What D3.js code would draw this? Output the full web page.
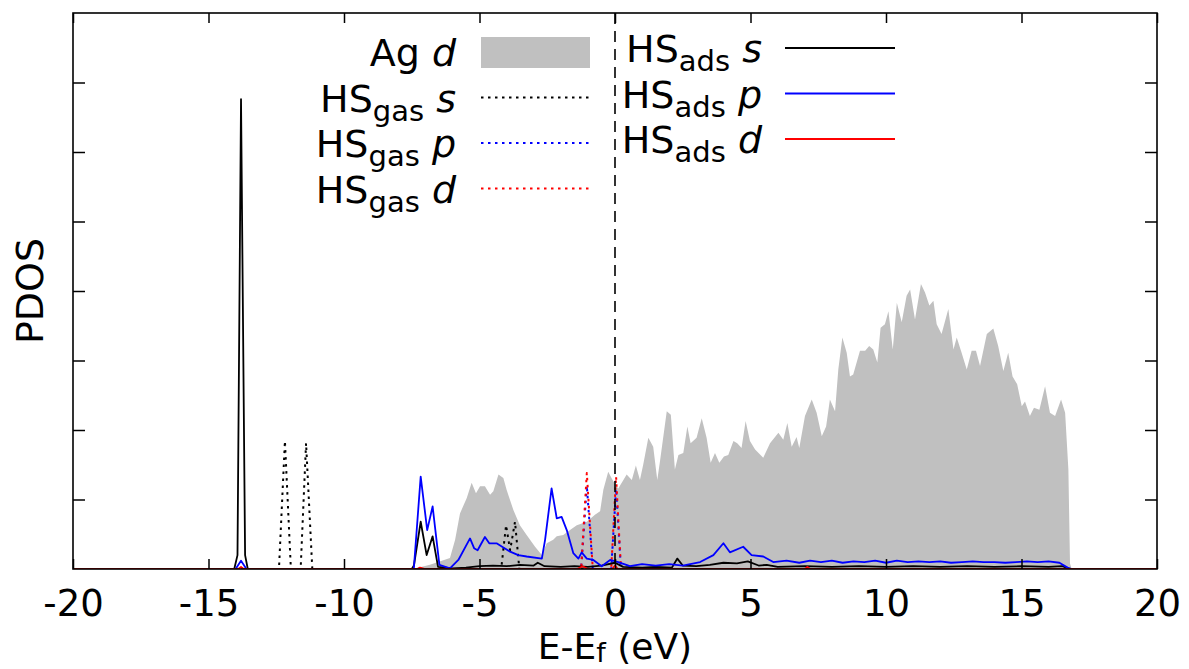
<!DOCTYPE html>
<html><head><meta charset="utf-8">
<script src="https://cdn.jsdelivr.net/npm/d3@7"></script>
<style>body{margin:0;background:#fff} text{font-family:"DejaVu Sans",sans-serif;fill:#000}</style>
</head><body><svg id="c" width="1189" height="669"></svg>
<script>
// ---------- data ----------
const xTicks = [-20,-15,-10,-5,0,5,10,15,20];
const yTicks = [1,2,3,4,5,6,7];

// Ag d (filled)
const agD = [[-7.45,0],[-6.83,0.06],[-6.09,0.16],[-5.9,0.42],[-5.72,0.8],[-5.47,1.02],[-5.29,1.24],[-5.13,1.09],[-4.98,1.19],[-4.8,1.19],[-4.61,1.07],[-4.49,1.12],[-4.3,1.36],[-4.12,1.31],[-4.0,1.14],[-3.75,0.85],[-3.51,0.63],[-3.26,0.49],[-2.95,0.32],[-2.7,0.2],[-2.52,0.37],[-2.28,0.42],[-2.15,0.47],[-1.91,0.49],[-1.66,0.56],[-1.41,0.63],[-1.04,0.68],[-0.74,0.78],[-0.55,0.83],[-0.43,1.14],[-0.25,1.4],[-0.06,1.26],[0.12,1.16],[0.31,1.28],[0.43,1.36],[0.62,1.28],[0.77,1.49],[0.92,1.28],[1.04,1.5],[1.23,1.89],[1.41,1.76],[1.56,1.28],[1.66,1.55],[1.91,2.27],[2.06,2.22],[2.21,1.43],[2.34,1.64],[2.52,1.67],[2.67,2.05],[2.79,1.81],[3.01,1.89],[3.2,2.17],[3.38,1.89],[3.53,1.53],[3.69,1.67],[3.85,1.53],[4.02,1.62],[4.18,1.64],[4.37,1.84],[4.51,1.81],[4.67,1.74],[4.82,2.13],[4.98,1.84],[5.17,1.72],[5.47,1.6],[5.72,1.81],[6.03,1.96],[6.21,1.86],[6.36,2.1],[6.52,1.76],[6.7,1.9],[6.8,1.74],[7.01,2.2],[7.26,2.44],[7.44,2.25],[7.63,1.91],[7.79,2.05],[7.93,2.44],[8.12,2.27],[8.24,2.87],[8.39,3.33],[8.55,3.11],[8.67,2.77],[8.79,2.8],[9.04,3.14],[9.23,3.14],[9.38,3.21],[9.53,3.16],[9.68,2.97],[9.8,3.47],[9.96,3.52],[10.09,3.71],[10.25,3.16],[10.4,3.83],[10.58,3.55],[10.76,3.93],[10.89,4.02],[11.07,3.59],[11.29,4.1],[11.44,3.98],[11.6,3.79],[11.75,3.86],[11.87,3.52],[12.05,3.38],[12.3,3.74],[12.49,3.16],[12.61,3.33],[12.79,3.11],[12.98,2.87],[13.16,3.14],[13.32,3.14],[13.47,2.92],[13.72,3.38],[13.96,3.46],[14.14,3.21],[14.33,2.85],[14.51,3.11],[14.67,2.77],[14.84,2.66],[15.01,2.34],[15.13,2.41],[15.31,2.2],[15.46,2.32],[15.66,2.29],[15.87,2.63],[16.05,2.25],[16.24,2.2],[16.46,2.44],[16.61,2.25],[16.73,1.43],[16.79,0.08],[16.85,0]];

// HS gas s (black dotted)
const gasS = [[-20,0],[-12.4,0],[-12.18,1.84],[-11.96,0],[-11.6,0],[-11.4,1.81],[-11.17,0],[-4.2,0],[-4.02,0.63],[-3.87,0.27],[-3.69,0.68],[-3.53,0],[20,0]];
// HS gas p (blue dotted)
const gasP = [[-20,0],[-1.25,0],[-1.04,1.2],[-0.82,0],[-0.14,0],[0.04,1.15],[0.22,0],[20,0]];
// HS gas d (red dotted)
const gasD = [[-20,0],[-1.25,0],[-1.04,1.38],[-0.82,0],[-0.14,0],[0.04,1.33],[0.22,0],[20,0]];

// HS ads s (black solid)
const adsS = [[-20,0],[-14.05,0],[-13.93,0.2],[-13.8,6.76],[-13.65,0.2],[-13.55,0],[-7.5,0],[-7.42,0.05],[-7.17,0.68],[-6.95,0.2],[-6.73,0.47],[-6.53,0.03],[-6.0,0.01],[-5.5,0.02],[-5.0,0.04],[-4.5,0.05],[-4.0,0.04],[-3.5,0.06],[-3.0,0.05],[-2.85,0.09],[-2.6,0.04],[-2.0,0.03],[-1.5,0.04],[-1.0,0.03],[-0.5,0.05],[0,0.09],[0.3,0.03],[1.0,0.02],[1.5,0.03],[2.1,0.02],[2.3,0.15],[2.5,0.05],[3.0,0.04],[3.5,0.06],[4.0,0.09],[4.5,0.08],[4.9,0.11],[5.3,0.05],[5.6,0.06],[6.0,0.03],[7.0,0.04],[8.0,0.03],[9.0,0.04],[10.0,0.03],[11.0,0.04],[12.0,0.03],[13.0,0.04],[14.0,0.03],[15.0,0.04],[16.0,0.03],[16.5,0.04],[16.8,0],[20,0]];
// HS ads p (blue solid)
const adsP = [[-20,0],[-14.0,0],[-13.8,0.12],[-13.6,0],[-7.45,0],[-7.42,0.02],[-7.17,1.33],[-6.93,0.56],[-6.73,0.9],[-6.48,0.06],[-6.09,0.01],[-5.78,0.13],[-5.35,0.44],[-5.2,0.3],[-5.07,0.27],[-4.8,0.46],[-4.64,0.37],[-4.37,0.37],[-4.12,0.31],[-3.87,0.25],[-3.57,0.2],[-3.26,0.18],[-2.7,0.15],[-2.58,0.42],[-2.34,1.16],[-2.15,0.73],[-1.97,0.75],[-1.78,0.56],[-1.54,0.23],[-1.35,0.15],[-1.23,0.24],[-1.04,0.15],[-0.8,0.13],[-0.49,0.04],[-0.18,0.13],[0.12,0.1],[0.55,0.04],[1.0,0.07],[1.5,0.05],[2.0,0.07],[2.5,0.05],[3.14,0.1],[3.63,0.2],[4.0,0.37],[4.24,0.24],[4.73,0.32],[5.04,0.2],[5.47,0.18],[5.84,0.1],[6.33,0.12],[6.8,0.09],[7.2,0.12],[7.6,0.1],[8.0,0.12],[8.4,0.09],[8.8,0.11],[9.2,0.1],[9.6,0.12],[10.0,0.09],[10.4,0.12],[10.8,0.1],[11.2,0.11],[11.6,0.1],[12.0,0.11],[12.4,0.09],[12.8,0.1],[13.2,0.11],[13.6,0.1],[14.0,0.1],[14.4,0.09],[14.8,0.1],[15.2,0.11],[15.6,0.1],[16.0,0.11],[16.4,0.09],[16.7,0.02],[16.85,0],[20,0]];
// HS ads d (red solid)
const adsD = [[-20,0],[-13.9,0],[-13.8,0.03],[-13.7,0],[-7.3,0],[-7.2,0.02],[-7.0,0],[-1.4,0],[-1.2,0.04],[-1.0,0],[-0.1,0],[0,0.05],[0.1,0],[7.0,0],[7.1,0.03],[7.2,0],[20,0]];

// legend entries
const legendLeft = [
  {main:"Ag ", sub:"", it:"d", key:"agD"},
  {main:"HS", sub:"gas", it:"s", key:"gasS"},
  {main:"HS", sub:"gas", it:"p", key:"gasP"},
  {main:"HS", sub:"gas", it:"d", key:"gasD"}
];
const legendRight = [
  {main:"HS", sub:"ads", it:"s", key:"adsS"},
  {main:"HS", sub:"ads", it:"p", key:"adsP"},
  {main:"HS", sub:"ads", it:"d", key:"adsD"}
];

// ---------- drawing ----------
const styles = {
  gasS:{color:"#000000", dash:"2.5,4.5", w:2},
  gasP:{color:"#0000ff", dash:"2.5,4.5", w:2},
  gasD:{color:"#ff0000", dash:"2.5,4.5", w:2},
  adsS:{color:"#000000", dash:null, w:1.8},
  adsP:{color:"#0000ff", dash:null, w:1.8},
  adsD:{color:"#ff0000", dash:null, w:1.8}
};
const series = {gasS, gasP, gasD, adsS, adsP, adsD};
const FS = 38, SUB = 29, TICKFS = 37, LABFS = 36, LABSUB = 27;

const svg = d3.select("#c");
const L=73, R=1157, T=13, B=569;
const x = d3.scaleLinear().domain([-20,20]).range([L,R]);
const y = d3.scaleLinear().domain([0,8]).range([B,T]);

svg.append("clipPath").attr("id","pc").append("rect")
  .attr("x",L).attr("y",T).attr("width",R-L).attr("height",B-T);
const plot = svg.append("g").attr("clip-path","url(#pc)");

plot.append("path").datum(agD)
  .attr("d", d3.area().x(d=>x(d[0])).y0(y(0)).y1(d=>y(d[1])))
  .attr("fill","#c0c0c0");

const line = d3.line().x(d=>x(d[0])).y(d=>y(d[1]));
["gasS","gasP","gasD","adsS","adsP","adsD"].forEach(k=>{
  const s = styles[k];
  plot.append("path").datum(series[k]).attr("d",line)
    .attr("fill","none").attr("stroke",s.color).attr("stroke-width",s.w)
    .attr("stroke-dasharray",s.dash).attr("stroke-linejoin","round");
});

// zero line
svg.append("line").attr("x1",x(0)).attr("x2",x(0)).attr("y1",T).attr("y2",B)
  .attr("stroke","#000").attr("stroke-width",1.6).attr("stroke-dasharray","11,7");

// axes
const fmt = d=>String(d);
const xb = svg.append("g").attr("transform",`translate(0,${B})`)
  .call(d3.axisBottom(x).tickValues(xTicks).tickFormat(fmt).tickSize(-10).tickPadding(21));
const xt = svg.append("g").attr("transform",`translate(0,${T})`)
  .call(d3.axisTop(x).tickValues(xTicks).tickFormat("").tickSize(-10));
const yl = svg.append("g").attr("transform",`translate(${L},0)`)
  .call(d3.axisLeft(y).tickValues(yTicks).tickFormat("").tickSize(-12));
const yr = svg.append("g").attr("transform",`translate(${R},0)`)
  .call(d3.axisRight(y).tickValues(yTicks).tickFormat("").tickSize(-12));
[xb,xt,yl,yr].forEach(g=>{
  g.select(".domain").remove();
  g.selectAll(".tick line").attr("stroke","#000").attr("stroke-width",1.5);
});
xb.selectAll(".tick text").attr("font-size",TICKFS).attr("font-family","DejaVu Sans").attr("fill","#000");

svg.append("rect").attr("x",L).attr("y",T).attr("width",R-L).attr("height",B-T)
  .attr("fill","none").attr("stroke","#000").attr("stroke-width",1.6);

// axis labels
const xl = svg.append("text").attr("x",x(0)).attr("y",659).attr("text-anchor","middle").attr("font-size",LABFS);
xl.append("tspan").text("E-E");
xl.append("tspan").attr("font-size",LABSUB).attr("dy",3).text("f");
xl.append("tspan").attr("dy",-3).text(" (eV)");

svg.append("text").attr("transform",`translate(43,291) rotate(-90)`)
  .attr("text-anchor","middle").attr("font-size",FS).text("PDOS");

// legend
function legendCol(entries, textRight, sx1, sx2, y0, dy){
  entries.forEach((e,i)=>{
    const cy = y0 + i*dy;
    const t = svg.append("text").attr("x",textRight).attr("y",cy+14)
      .attr("text-anchor","end").attr("font-size",FS);
    t.append("tspan").text(e.main);
    if(e.sub){
      t.append("tspan").attr("font-size",SUB).attr("dy",9).text(e.sub);
      t.append("tspan").attr("dy",-9).text("\u00a0");
    }
    t.append("tspan").attr("font-style","italic").text(e.it);
    if(e.key==="agD"){
      svg.append("rect").attr("x",sx1).attr("y",cy-15).attr("width",sx2-sx1).attr("height",31)
        .attr("fill","#c0c0c0");
    } else {
      const s = styles[e.key];
      svg.append("line").attr("x1",sx1).attr("x2",sx2).attr("y1",cy).attr("y2",cy)
        .attr("stroke",s.color).attr("stroke-width",s.w).attr("stroke-dasharray",s.dash);
    }
  });
}
legendCol(legendLeft, 456, 481, 590, 52, 45.5);
legendCol(legendRight, 762, 785, 895, 48, 45.5);
</script></body></html>
